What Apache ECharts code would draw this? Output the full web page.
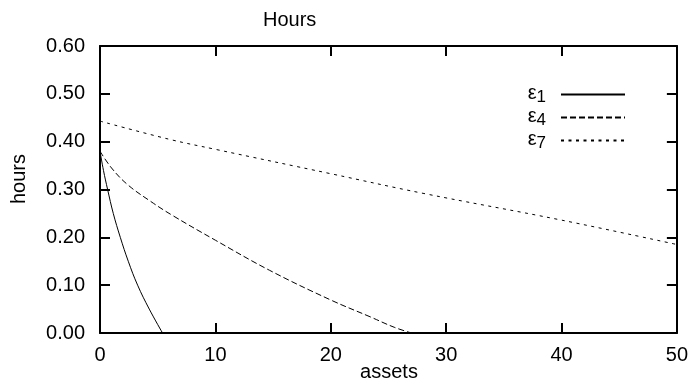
<!DOCTYPE html>
<html>
<head>
<meta charset="utf-8">
<script src="https://cdn.jsdelivr.net/npm/echarts@6/dist/echarts.min.js"></script>
<style>
html,body{margin:0;padding:0;background:#fff;}
#hours{width:691px;height:387px;}
</style>
</head>
<body>
<div id="hours"></div>
<script>
// 读图得到的数据 (assets, hours)
var eps1 = [[0,0.38],[0.3,0.34],[0.66,0.30],[1.15,0.25],[1.76,0.20],[2.45,0.15],[3.26,0.10],[4.27,0.05],[5.42,0]];
var eps4 = [[0,0.38],[1,0.345],[2.4,0.31],[4.4,0.275],[6.2,0.247],[10,0.194],[14.7,0.131],[20,0.069],[23.4,0.034],[25.5,0.012],[27,0]];
var eps7 = [[0,0.443],[6,0.405],[10,0.384],[20,0.333],[28,0.292],[40,0.236],[50,0.185]];
var seriesNames = ['ε1','ε4','ε7'];
var xTicks = {min:0, max:50, interval:10};
var yTicks = {min:0, max:0.6, interval:0.1};

var font = 'Liberation Sans, Arial, sans-serif';

function axisBase(){
	return {
		type:'value',
		axisLine:{show:true, onZero:false, lineStyle:{color:'#000', width:2}},
		axisTick:{show:true, inside:true, length:10, lineStyle:{color:'#000', width:2}},
		splitLine:{show:false}
	};
}

var charts = echarts.init(document.getElementById('hours'));
var xMain = axisBase();
xMain.position = 'bottom';
xMain.min = xTicks.min; xMain.max = xTicks.max; xMain.interval = xTicks.interval;
xMain.axisLabel = {color:'#000', fontSize:20, fontFamily:font, margin:12};

var xTop = axisBase();
xTop.position = 'top';
xTop.min = xTicks.min; xTop.max = xTicks.max; xTop.interval = xTicks.interval;
xTop.axisLabel = {show:false};

var yMain = axisBase();
yMain.position = 'left';
yMain.min = yTicks.min; yMain.max = yTicks.max; yMain.interval = yTicks.interval;
yMain.axisLabel = {color:'#000', fontSize:20, fontFamily:font, margin:15,
	formatter:function(v){ return v.toFixed(2); }};

var yRight = axisBase();
yRight.position = 'right';
yRight.min = yTicks.min; yRight.max = yTicks.max; yRight.interval = yTicks.interval;
yRight.axisLabel = {show:false};

var dashes = ['solid',[6,3],[3,4.5]];
var datas = [eps1, eps4, eps7];
var Series = [];
for(var i=0;i<datas.length;i++){
	Series.push({
		name: seriesNames[i],
		type:'line',
		data: datas[i],
		smooth:0.4,
		symbol:'none',
		lineStyle:{color:'#000', width:1, type:dashes[i]},
		itemStyle:{color:'#000'}
	});
}

// 轴名称用 graphic 画 (axis name 会让副轴不显示)
var nameFont = '20px "Liberation Sans", Arial, sans-serif';

var option = {
	backgroundColor:'#fff',
	animation:false,
	title:{
		text:'Hours',
		left:263,
		top:10,
		padding:0,
		textStyle:{color:'#000', fontSize:20, fontWeight:'normal', fontFamily:font}
	},
	legend:{
		data: seriesNames,
		orient:'vertical',
		right:65,
		top:83,
		padding:0,
		align:'right',
		itemWidth:64,
		itemHeight:14,
		itemGap:0,
		itemStyle:{opacity:0},
		formatter:function(n){ return '{e|ε}{s|' + n.slice(1) + '}'; },
		textStyle:{
			color:'#000', fontFamily:font,
			rich:{
				e:{fontSize:20, fontFamily:font, color:'#000', lineHeight:23, verticalAlign:'top'},
				s:{fontSize:17, fontFamily:font, color:'#000', lineHeight:23, verticalAlign:'bottom', padding:[0,10,0,0]}
			}
		}
	},
	graphic:[
		{type:'text', x:389, y:372, silent:true,
			style:{text:'assets', fill:'#000', font:nameFont, align:'center', verticalAlign:'middle', textAlign:'center', textVerticalAlign:'middle'}},
		{type:'text', x:19, y:179, rotation:Math.PI/2, silent:true,
			style:{text:'hours', fill:'#000', font:nameFont, align:'center', verticalAlign:'middle', textAlign:'center', textVerticalAlign:'middle'}}
	],
	grid:{left:100, right:13, top:46, bottom:54, containLabel:false},
	xAxis:[xMain, xTop],
	yAxis:[yMain, yRight],
	series:Series
};
charts.setOption(option);
</script>
</body>
</html>
